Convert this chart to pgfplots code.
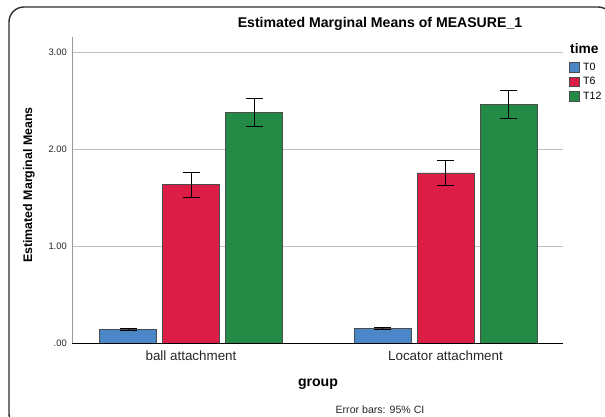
\documentclass[border=0pt]{standalone}
\usepackage{pgfplots}
\pgfplotsset{compat=1.18}
\usepackage{fontspec}
\setmainfont{Liberation Sans}
\definecolor{cblue}{RGB}{74,134,200}
\definecolor{cred}{RGB}{220,30,70}
\definecolor{cgreen}{RGB}{36,139,71}
\definecolor{frame}{RGB}{45,45,45}
\begin{document}
\begin{tikzpicture}[x=1pt,y=1pt]
\useasboundingbox (0,0) rectangle (605,417);
\draw[frame, line width=1.4pt, rounded corners=15pt] (9,-12) rectangle (613,410);
\begin{axis}[
  at={(72pt,73.5pt)}, anchor=south west,
  scale only axis, width=491pt, height=306.5pt,
  ybar, bar width=57pt, ybar=6pt,
  xmin=-0.4676, xmax=1.4617, ymin=0, ymax=3.16,
  axis x line*=bottom, axis y line*=left,
  x axis line style={black, line width=1.8pt},
  y axis line style={black!40, line width=0.7pt},
  major tick length=0pt,
  ytick={0,1,2,3}, yticklabels={.00,1.00,2.00,3.00},
  xtick={0,1}, xticklabels={ball attachment, Locator attachment},
  ymajorgrids, grid style={black!25, line width=0.8pt},
  /pgf/number format/assume math mode=true,
  yticklabel style={font=\fontsize{9.4}{11}\selectfont, text=black!85, anchor=east, inner sep=0pt, xshift=-5pt},
  xticklabel style={font=\fontsize{13.4}{15}\selectfont, text=black!85, anchor=base, inner sep=0pt, yshift=-17.5pt},
  every axis plot/.append style={draw=black!70, line width=0.6pt},
  error bars/y dir=both, error bars/y explicit,
  error bars/error bar style={black, line width=0.8pt},
  error bars/error mark options={rotate=90, mark size=8.5pt, line width=0.8pt, black},
  legend style={draw=none, fill=none, at={(axis description cs:1.0122,0.918)}, anchor=north west,
    font=\fontsize{10.6}{12}\selectfont, inner sep=0pt, row sep=4.8pt,
    nodes={inner sep=0pt},
    /tikz/every odd column/.append style={column sep=4pt}},
  legend cell align=left,
  legend image code/.code={\draw[#1, draw=black!70, line width=0.5pt] (0pt,-4.6pt) rectangle (9.5pt,4.6pt);},
]
\addplot[fill=cblue] coordinates {(0,0.146) +- (0,0.010) (1,0.153) +- (0,0.011)};
\addplot[fill=cred] coordinates {(0,1.637) +- (0,0.130) (1,1.758) +- (0,0.127)};
\addplot[fill=cgreen] coordinates {(0,2.383) +- (0,0.143) (1,2.466) +- (0,0.145)};
\legend{T0,T6,T12}
\draw[black, line width=1.8pt] (axis cs:-0.4676,0) -- (axis cs:1.4617,0);
\end{axis}
\node[anchor=base, font=\bfseries\fontsize{14.1}{16}\selectfont] at (380,389) {Estimated Marginal Means of MEASURE\_1};
\node[rotate=90, font=\bfseries\fontsize{12.4}{14}\selectfont] at (29,232) {Estimated Marginal Means};
\node[anchor=base, font=\bfseries\fontsize{14.1}{16}\selectfont] at (318,30) {group};
\node[anchor=base, font=\fontsize{10.6}{12}\selectfont, text=black!85] at (380,3) {Error bars: 95\% CI};
\node[anchor=base west, inner sep=0pt, font=\bfseries\fontsize{13.8}{16}\selectfont] at (570,363) {time};
\end{tikzpicture}
\end{document}
